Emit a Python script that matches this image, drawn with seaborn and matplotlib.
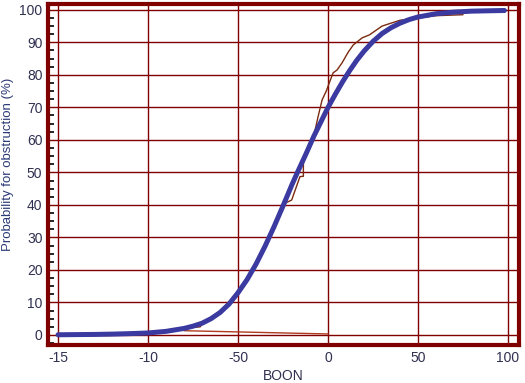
import matplotlib
matplotlib.use('agg')
import seaborn as sns
import matplotlib.pyplot as plt
from matplotlib.ticker import MultipleLocator

sns.set_style('white')
plt.rcParams['font.family'] = ['Liberation Sans', 'DejaVu Sans']

# fitted curve
fit_x = [-150, -140, -130, -120, -110, -100, -90, -80, -75, -70, -65, -60, -55,
         -50, -45, -40, -35, -30, -25, -20, -17, -12, -8, -4, 0, 4, 8, 12, 16,
         20, 25, 30, 35, 40, 45, 50, 60, 70, 80, 98]
fit_y = [0.05, 0.1, 0.15, 0.25, 0.4, 0.6, 1.1, 2.0, 2.7, 3.6, 5.0, 6.9, 9.5,
         13.0, 17.0, 21.8, 27.3, 33.3, 39.7, 46.3, 50.0, 56.0, 61.0, 65.5, 70.0,
         74.0, 77.8, 81.3, 84.5, 87.3, 90.3, 92.7, 94.5, 95.9, 97.0, 97.8, 98.8,
         99.3, 99.6, 99.8]

# observed (empirical) curve
obs_x = [-80, -71, -69.4, -60, -50, -43, -36, -30, -25.6, -23.9, -20.2, -15.6, -13.7,
         -13.7, -11, -8, -5.6, -3.3, -1, 1, 2.8, 5, 7.8, 11, 14, 19, 23, 30, 40,
         50, 60, 75]
obs_y = [2.0, 2.5, 4.0, 7.2, 13.2, 19.5, 26, 33, 39.5, 40.5, 41.5, 48.7, 48.8,
         53.5, 57, 61, 67, 72.3, 75, 78, 80.6, 81.5, 83.7, 86.8, 89.2, 91.4, 92.3, 95, 96.8,
         97.5, 98.2, 98.5]

# low line near zero
low_x = [-80, 0]
low_y = [1.3, 0.3]

x_ticks = [-150, -100, -50, 0, 50, 100]
x_labels = ['-15', '-10', '-50', '0', '50', '100']
y_ticks = [0, 10, 20, 30, 40, 50, 60, 70, 80, 90, 100]

fig = plt.figure(figsize=(5.25, 3.83), dpi=100)
ax = fig.add_axes([0.0914, 0.0992, 0.8972, 0.8904])

grid_col = '#800000'
for xv in x_ticks:
    ax.axvline(xv, color=grid_col, lw=1.0, zorder=1)
for yv in y_ticks:
    ax.axhline(yv, color=grid_col, lw=1.0, zorder=1)

sns.lineplot(x=low_x, y=low_y, color='#b03a20', lw=1.0, ax=ax, zorder=2)
sns.lineplot(x=obs_x, y=obs_y, color='#7a2a10', lw=1.0, estimator=None, sort=False,
             ax=ax, zorder=3)
sns.lineplot(x=fit_x, y=fit_y, color='#3a3aa0', lw=3.6, ax=ax, zorder=4,
             solid_capstyle='round', solid_joinstyle='round')

ax.set_xlim(-155.6, 106.1)
ax.set_ylim(-3.1, 101.8)
ax.set_xticks(x_ticks)
ax.set_xticklabels(x_labels)
ax.set_yticks(y_ticks)
ax.yaxis.set_minor_locator(MultipleLocator(2.5))

txt_col = '#303050'
ax.tick_params(axis='both', which='major', direction='in', length=5, width=1.5,
               color='black', labelsize=10, labelcolor=txt_col, pad=4)
ax.tick_params(axis='y', which='minor', direction='in', length=4, width=1.2,
               color='black', left=True)

for s in ax.spines.values():
    s.set_color(grid_col)
    s.set_linewidth(3)
    s.set_visible(True)

ax.set_xlabel('BOON', fontsize=10, color=txt_col, labelpad=3)
ax.set_ylabel('Probability for obstruction (%)', fontsize=9.5, color='#2b3a78')
ax.yaxis.set_label_coords(-0.072, 0.53)

fig.savefig('out.png', dpi=100)
